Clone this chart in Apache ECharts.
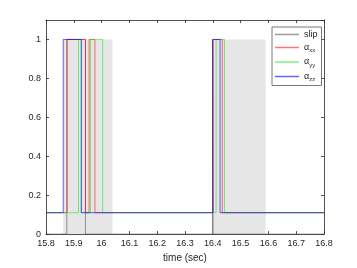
<!DOCTYPE html>
<html>
<head>
<meta charset="utf-8">
<script src="https://cdn.jsdelivr.net/npm/echarts@6/dist/echarts.min.js"></script>
<style>html,body{margin:0;padding:0;background:#fff;}#c{width:357px;height:268px;}</style>
</head>
<body>
<div id="c"></div>
<script>
const LOW = 0.11;
const X_MIN = 15.8, X_MAX = 16.8;
const xTicks = [15.8, 15.9, 16, 16.1, 16.2, 16.3, 16.4, 16.5, 16.6, 16.7, 16.8];
const yTicks = [0, 0.2, 0.4, 0.6, 0.8, 1];
const shadeRanges = [[15.862, 16.039], [16.400, 16.590]];

const slipT = [15.8, 15.875, 15.942, 16.399, 16.401];
const slipV = [0, 1, 0, 1, 0];
const xxT = [15.8, 15.876, 15.942, 15.955, 15.976, 16.401, 16.434];
const xxV = [LOW, 1, LOW, 1, LOW, 1, LOW];
const yyT = [15.8, 15.917, 15.927, 15.960, 16.004, 16.412, 16.442];
const yyV = [LOW, 1, LOW, 1, LOW, 1, LOW];
const zzT = [15.8, 15.862, 15.927, 16.400, 16.426];
const zzV = [LOW, 1, LOW, 1, LOW];

function pts(T, V) {
  const d = T.map((t, i) => [t, V[i]]);
  d.push([X_MAX, V[V.length - 1]]);
  return d;
}

const font = 'Liberation Sans, Arial, sans-serif';
const axisColor = '#262626';

function mkSeries(name, T, V, color) {
  return {
    name: name, type: 'line', step: 'end', data: pts(T, V),
    showSymbol: false, symbol: 'none', color: color,
    lineStyle: { width: 1, color: color }, itemStyle: { color: color },
    animation: false, clip: true
  };
}

const chart = echarts.init(document.getElementById('c'), null, { renderer: 'canvas' });
const subs = { 'αxx': 'xx', 'αyy': 'yy', 'αzz': 'zz' };
chart.setOption({
  animation: false,
  grid: { left: 46, right: 33, top: 20, bottom: 30 },
  xAxis: [{
    type: 'value', min: X_MIN, max: X_MAX, interval: 0.1,
    name: 'time (sec)', nameLocation: 'middle', nameGap: 15,
    nameTextStyle: { fontFamily: font, fontSize: 10, color: axisColor },
    axisLine: { show: true, lineStyle: { color: axisColor, width: 0.8 } },
    axisTick: { show: true, inside: true, length: 3, lineStyle: { color: axisColor, width: 0.8 } },
    axisLabel: { fontFamily: font, fontSize: 9, color: axisColor, margin: 5,
      formatter: v => { const r = Math.round(v * 10) / 10; return xTicks.indexOf(r) >= 0 ? String(r) : ''; } },
    splitLine: { show: false }
  }, {
    type: 'value', min: X_MIN, max: X_MAX, interval: 0.1, position: 'top',
    axisLine: { show: true, onZero: false, lineStyle: { color: axisColor, width: 0.8 } },
    axisTick: { show: true, inside: true, length: 3, lineStyle: { color: axisColor, width: 0.8 } },
    axisLabel: { show: false }, splitLine: { show: false }
  }],
  yAxis: [{
    type: 'value', min: 0, max: 1.1, interval: 0.2,
    axisLine: { show: true, lineStyle: { color: axisColor, width: 0.8 } },
    axisTick: { show: true, inside: true, length: 3, lineStyle: { color: axisColor, width: 0.8 } },
    axisLabel: { fontFamily: font, fontSize: 9, color: axisColor, margin: 5, showMaxLabel: false,
      formatter: v => { const r = Math.round(v * 10) / 10; return yTicks.indexOf(r) >= 0 ? String(r) : ''; } },
    splitLine: { show: false }
  }, {
    type: 'value', min: 0, max: 1.1, interval: 0.2, position: 'right',
    axisLine: { show: true, onZero: false, lineStyle: { color: axisColor, width: 0.8 } },
    axisTick: { show: true, inside: true, length: 3, lineStyle: { color: axisColor, width: 0.8 } },
    axisLabel: { show: false }, splitLine: { show: false }
  }],
  legend: {
    orient: 'vertical', left: 272, top: 27,
    data: ['slip', 'αxx', 'αyy', 'αzz'],
    icon: 'rect', itemWidth: 24, itemHeight: 1.5, itemGap: 4,
    padding: [3, 4, 3, 3],
    backgroundColor: '#fff', borderColor: '#555', borderWidth: 0.8,
    textStyle: {
      fontFamily: font, fontSize: 9, color: axisColor,
      rich: {
        a: { fontFamily: font, fontSize: 9, color: axisColor },
        s: { fontFamily: font, fontSize: 6, color: axisColor, padding: [6, 0, 0, 0] }
      }
    },
    formatter: n => subs[n] ? '{a|α}{s|' + subs[n] + '}' : n
  },
  series: [
    {
      name: 'shade', type: 'line', data: [], silent: true,
      markArea: {
        silent: true, itemStyle: { color: '#e6e6e6' },
        data: shadeRanges.map(r => [{ xAxis: r[0], yAxis: 0 }, { xAxis: r[1], yAxis: 1 }])
      }
    },
    mkSeries('slip', slipT, slipV, 'rgba(60,60,60,0.5)'),
    mkSeries('αxx', xxT, xxV, 'rgba(255,0,0,0.55)'),
    mkSeries('αyy', yyT, yyV, 'rgba(0,230,0,0.5)'),
    mkSeries('αzz', zzT, zzV, 'rgba(0,0,255,0.6)')
  ]
});
</script>
</body>
</html>
